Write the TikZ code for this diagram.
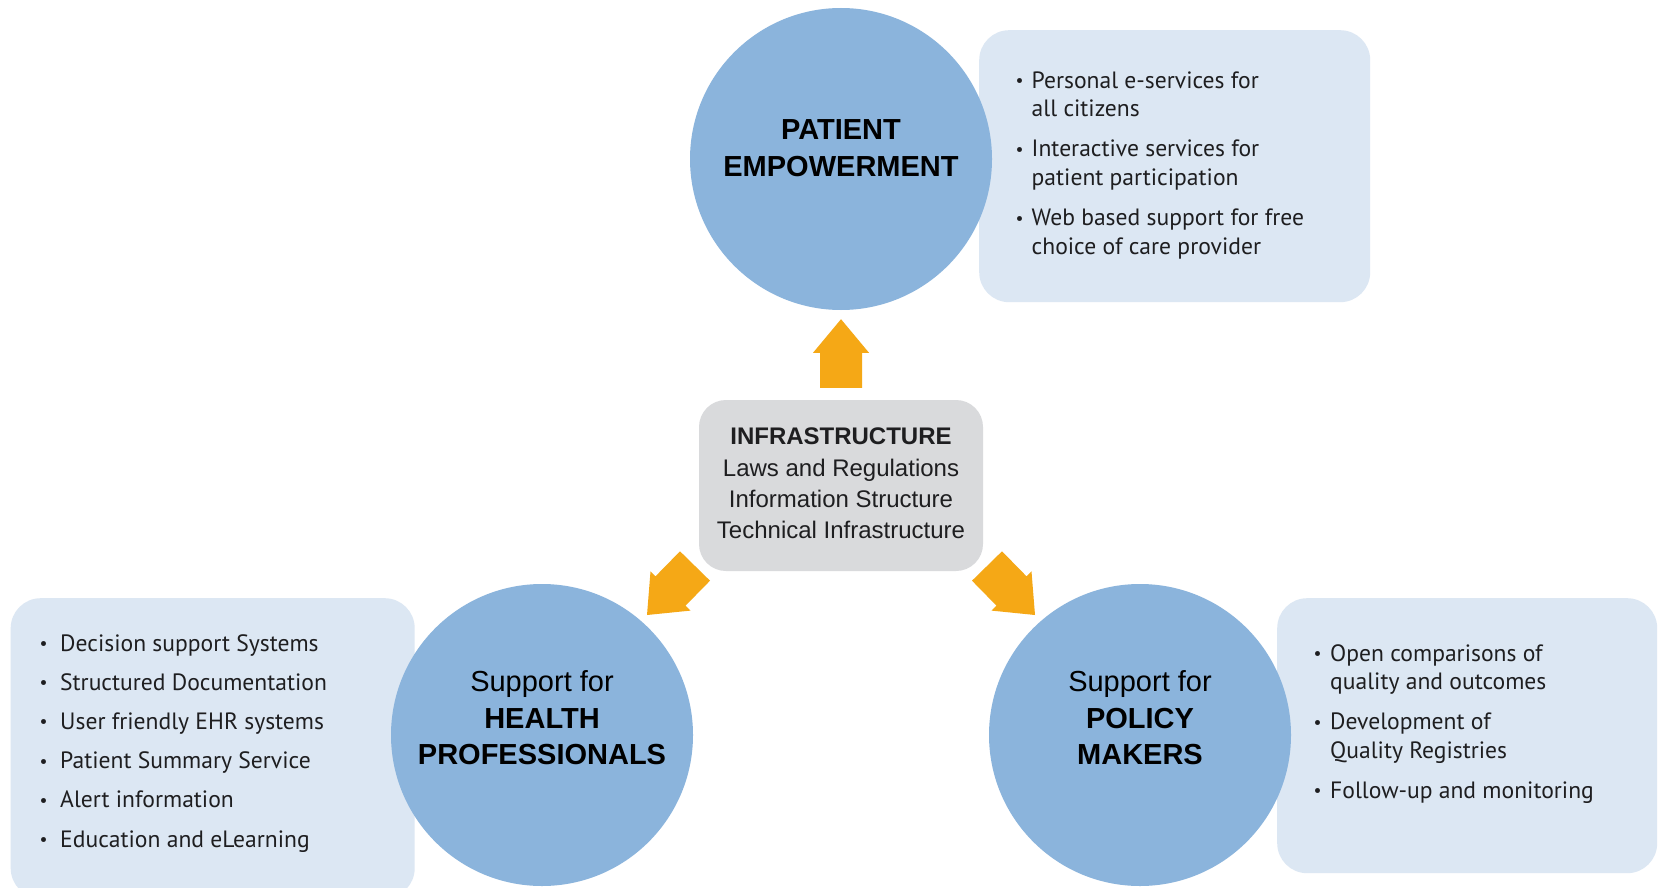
\documentclass[tikz,border=0pt]{standalone}
\usepackage{fontspec}
\setmainfont{Liberation Sans}
\newfontfamily\listfont{PT Sans}
\usetikzlibrary{calc}

\definecolor{circblue}{RGB}{139,180,220}
\definecolor{boxblue}{RGB}{220,231,243}
\definecolor{infragray}{RGB}{217,218,220}
\definecolor{arroworange}{RGB}{245,168,22}
\definecolor{ink}{RGB}{30,30,32}

% bullet column for the lists
\newlength\bulw
\newcommand{\bul}{\makebox[\bulw][l]{\raisebox{1.5pt}{\scalebox{0.75}{\textbullet}}}}
\newcommand{\ind}{\hspace*{\bulw}}

% block arrow from a tail point to a tip point
\newcommand{\flowarrow}[2]{%
  \fill[flow] let \p1=($(#2)-(#1)$), \n1={atan2(\y1,\x1)} in
    ($(#1)+(\n1+90:21)$) -- ($(#1)+(\n1:35)+(\n1+90:21)$) --
    ($(#1)+(\n1:35)+(\n1+90:28)$) -- (#2) --
    ($(#1)+(\n1:35)+(\n1-90:28)$) -- ($(#1)+(\n1:35)+(\n1-90:21)$) --
    ($(#1)+(\n1-90:21)$) -- cycle;}

\tikzset{
  hub/.style={circle, fill=circblue, minimum size=302pt, inner sep=0pt},
  listbox/.style={fill=boxblue, rounded corners=30pt, inner sep=0pt, anchor=north west},
  hubtext/.style={anchor=base, inner sep=0pt, text=black, font=\fontsize{29}{36.5}\selectfont},
  listtext/.style={anchor=base west, inner sep=0pt, text=ink, font=\listfont\fontsize{23.6}{28.6}\selectfont},
  infrabox/.style={fill=infragray, rounded corners=27pt, inner sep=0pt,
    minimum width=284pt, minimum height=171pt, text=ink, font=\fontsize{24}{31.3}\selectfont},
  flow/.style={fill=arroworange},
}

\begin{document}
\begin{tikzpicture}[x=1pt,y=1pt]
\fill[white] (0,0) rectangle (1659,-888);
\useasboundingbox (0,0) rectangle (1659,-888);

% list panels behind the circles
\node[listbox, minimum width=391pt, minimum height=272pt] (peList) at (979,-30) {};
\node[listbox, minimum width=404pt, minimum height=300pt] (hpList) at (10.5,-598) {};
\node[listbox, minimum width=380pt, minimum height=275pt] (pmList) at (1277,-598) {};

% the three target circles
\node[hub] (pe) at (841,-159) {};
\node[hub] (hp) at (542,-735) {};
\node[hub] (pm) at (1140,-735) {};

\node[hubtext] (peLabel) at (841,-139.5)
  {\begin{tabular}[t]{@{}c@{}}\bfseries PATIENT\\\bfseries EMPOWERMENT\end{tabular}};
\node[hubtext] (hpLabel) at (542,-691.5)
  {\begin{tabular}[t]{@{}c@{}}Support for\\\bfseries HEALTH\\\bfseries PROFESSIONALS\end{tabular}};
\node[hubtext] (pmLabel) at (1140,-691.5)
  {\begin{tabular}[t]{@{}c@{}}Support for\\\bfseries POLICY\\\bfseries MAKERS\end{tabular}};

% bullet lists
\node[listtext] (peItems) at (1015.5,-88.4)
  {\setlength\bulw{16pt}\begin{tabular}[t]{@{}l@{}}
   \bul Personal e-services for\\
   \ind all citizens\\[11.4pt]
   \bul Interactive services for\\
   \ind patient participation\\[11.4pt]
   \bul Web based support for free\\
   \ind choice of care provider
   \end{tabular}};
\node[listtext] (hpItems) at (39.5,-651)
  {\setlength\bulw{20.5pt}\begin{tabular}[t]{@{}l@{}}
   \bul Decision support Systems\\[10.6pt]
   \bul Structured Documentation\\[10.6pt]
   \bul User friendly EHR systems\\[10.6pt]
   \bul Patient Summary Service\\[10.6pt]
   \bul Alert information\\[10.6pt]
   \bul Education and eLearning
   \end{tabular}};
\node[listtext] (pmItems) at (1313.5,-661)
  {\setlength\bulw{16.5pt}\begin{tabular}[t]{@{}l@{}}
   \bul Open comparisons of\\
   \ind quality and outcomes\\[11.4pt]
   \bul Development of\\
   \ind Quality Registries\\[11.4pt]
   \bul Follow-up and monitoring
   \end{tabular}};

% central infrastructure panel
\node[infrabox] (infra) at (841,-485.5)
  {\begin{tabular}{@{}c@{}}\bfseries INFRASTRUCTURE\\
   Laws and Regulations\\ Information Structure\\ Technical Infrastructure\end{tabular}};

% arrows from the infrastructure to the circles
\coordinate (upTail) at ([yshift=12pt]infra.north);
\coordinate (upTip) at ([yshift=-9pt]pe.south);
\coordinate (hpTail) at (695,-566);
\coordinate (hpTip) at (647,-615);
\coordinate (pmTail) at (987,-566);
\coordinate (pmTip) at (1035,-615);
\flowarrow{upTail}{upTip}
\flowarrow{hpTail}{hpTip}
\flowarrow{pmTail}{pmTip}
\end{tikzpicture}
\end{document}
